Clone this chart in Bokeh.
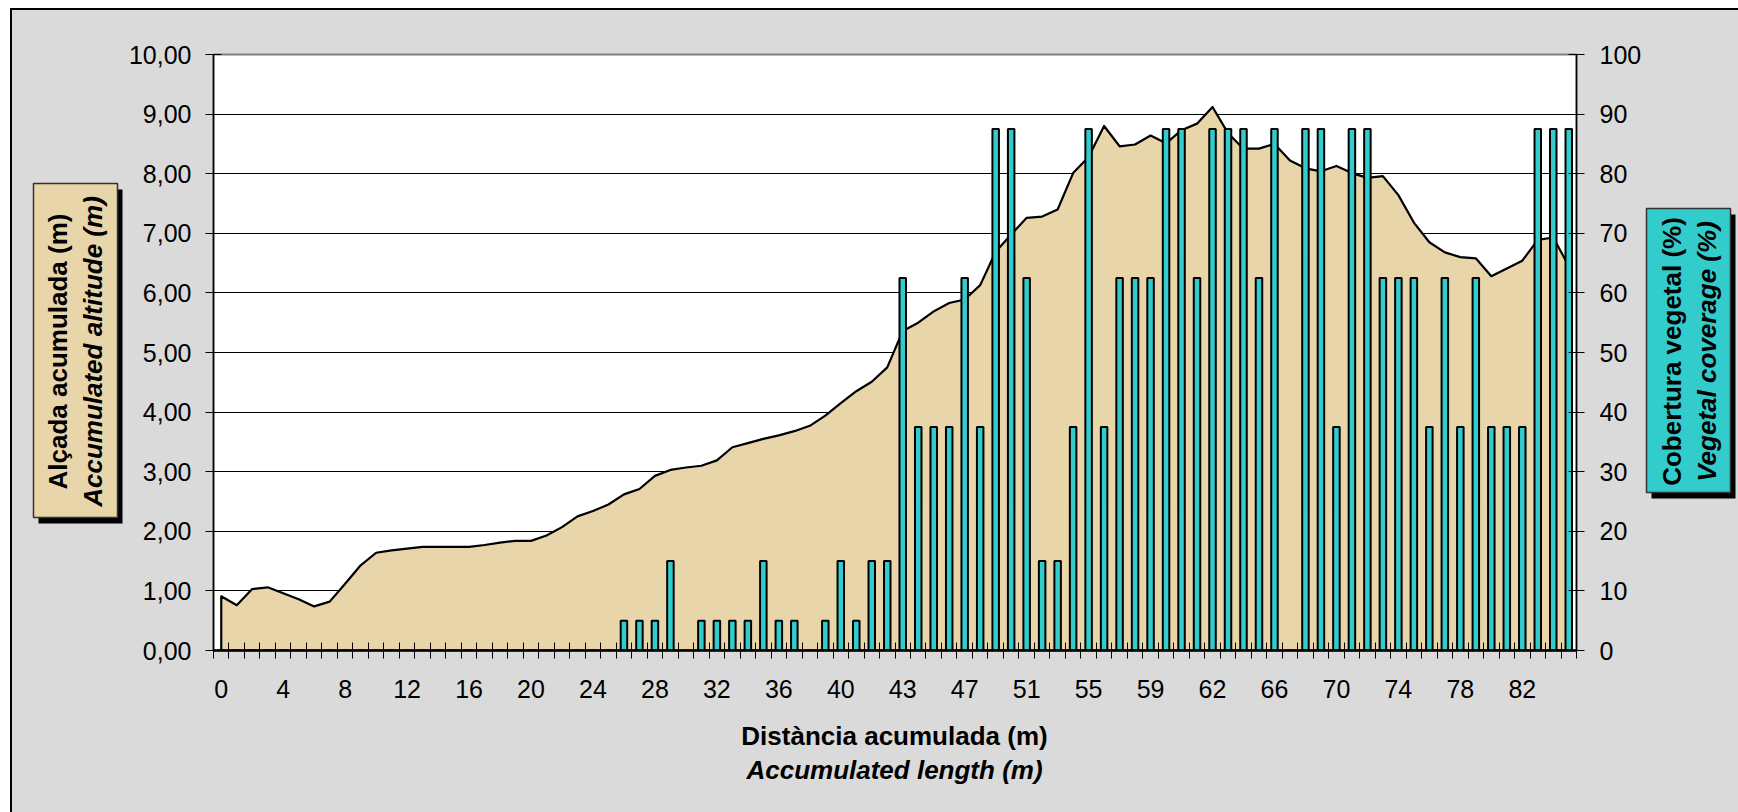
import math
from bokeh.plotting import figure
from bokeh.models import Range1d, LinearAxis, FixedTicker
from bokeh.layouts import row, column
from bokeh.core.properties import value
from bokeh.embed import file_html
from bokeh.resources import INLINE

# ---------------- data ----------------
altitude_m = [
    0.91, 0.76, 1.03, 1.06, 0.96, 0.86, 0.74, 0.82, 1.12, 1.43,
    1.64, 1.68, 1.71, 1.74, 1.74, 1.74, 1.74, 1.77, 1.81, 1.84,
    1.84, 1.93, 2.07, 2.25, 2.34, 2.45, 2.62, 2.71, 2.93, 3.03,
    3.07, 3.10, 3.19, 3.41, 3.48, 3.55, 3.61, 3.68, 3.77, 3.94,
    4.15, 4.35, 4.51, 4.75, 5.36, 5.50, 5.69, 5.83, 5.89, 6.13,
    6.69, 6.98, 7.26, 7.28, 7.40, 8.01, 8.28, 8.80, 8.46, 8.49,
    8.64, 8.51, 8.73, 8.84, 9.12, 8.68, 8.42, 8.42, 8.50, 8.22,
    8.09, 8.04, 8.13, 8.01, 7.93, 7.96, 7.64, 7.18, 6.85, 6.68,
    6.60, 6.58, 6.28, 6.41, 6.54, 6.89, 6.93, 6.45,
]

vegetal_cover_pct = [0] * 26 + [
    5, 5, 5, 15, 0, 5, 5, 5, 5, 15, 5, 5, 0, 5, 15, 5, 15, 15,
    62.5, 37.5, 37.5, 37.5, 62.5, 37.5, 87.5, 87.5, 62.5, 15,
    15, 37.5, 87.5, 37.5, 62.5, 62.5, 62.5, 87.5, 87.5, 62.5,
    87.5, 87.5, 87.5, 62.5, 87.5, 0, 87.5, 87.5, 37.5, 87.5,
    87.5, 62.5, 62.5, 62.5, 37.5, 62.5, 37.5, 62.5, 37.5, 37.5,
    37.5, 87.5, 87.5, 87.5,
]

x_tick_labels = ["0", "4", "8", "12", "16", "20", "24", "28", "32", "36", "40",
                 "43", "47", "51", "55", "59", "62", "66", "70", "74", "78", "82"]
left_ticks = [0, 1, 2, 3, 4, 5, 6, 7, 8, 9, 10]
right_ticks = [0, 10, 20, 30, 40, 50, 60, 70, 80, 90, 100]

x_title = ["Distància acumulada (m)", "Accumulated length (m)"]
left_title = ["Alçada acumulada (m)", "Accumulated altitude (m)"]
right_title = ["Cobertura vegetal (%)", "Vegetal coverage (%)"]

# ---------------- styling ----------------
FONT = "Liberation Sans"
TAN = "#e9d5aa"
CYAN = "#33cccc"
BG = "#dadada"
TICK_SIZE = "25px"
TITLE_SIZE = "26px"

# page geometry (content origin after margin + border)
X0, Y0 = 12, 10
LEFT_W, MAIN_W, RIGHT_W = 113, 1519, 94
TOP_H, BOT_H = 700, 102
MB_TOP, MB_BOTTOM = 44, 60          # frame: page y 54 .. 650
FRAME_TOP = Y0 + MB_TOP
FRAME_BOTTOM = Y0 + TOP_H - MB_BOTTOM

n = len(altitude_m)
idx = list(range(n))

# ---------------- main chart ----------------
p = figure(width=MAIN_W, height=TOP_H, output_backend="svg", toolbar_location=None,
           x_range=Range1d(-0.5, n - 0.5), y_range=Range1d(0, 10),
           min_border_left=88, min_border_right=67,
           min_border_top=MB_TOP, min_border_bottom=MB_BOTTOM)
p.extra_y_ranges = {"veg": Range1d(0, 100)}
p.background_fill_color = "white"
p.border_fill_color = BG
p.outline_line_color = "#808080"
p.outline_line_width = 2

p.xgrid.visible = False
p.ygrid.ticker = FixedTicker(ticks=left_ticks[1:-1])
p.ygrid.grid_line_color = "black"
p.ygrid.grid_line_width = 1

xs = [idx[0]] + idx + [idx[-1]]
ys = [0] + altitude_m + [0]
p.patch(xs, ys, fill_color=TAN, line_color="black", line_width=2.2, line_join="round")

p.vbar(x=idx, top=vegetal_cover_pct, bottom=0, width=0.42, y_range_name="veg",
       fill_color=CYAN, line_color="black", line_width=2)

xa = p.xaxis[0]
xa.ticker = FixedTicker(ticks=[4 * i for i in range(len(x_tick_labels))],
                        minor_ticks=[i - 0.5 for i in range(n + 1)])
xa.major_label_overrides = {4 * i: lab for i, lab in enumerate(x_tick_labels)}
xa.major_tick_in = 0
xa.major_tick_out = 0
xa.major_tick_line_color = None
xa.minor_tick_in = 8
xa.minor_tick_out = 8
xa.minor_tick_line_color = "black"
xa.axis_line_color = "black"
xa.axis_line_width = 2.5
xa.major_label_standoff = 21
xa.major_label_text_font = FONT
xa.major_label_text_font_size = TICK_SIZE
xa.major_label_text_color = "black"

ya = p.yaxis[0]
ya.ticker = FixedTicker(ticks=left_ticks)
ya.major_label_overrides = {v: f"{v},00" for v in left_ticks}
ya.minor_tick_line_color = None
ya.major_tick_in = 8
ya.major_tick_out = 8
ya.major_tick_line_color = "black"
ya.axis_line_color = "black"
ya.axis_line_width = 1.5
ya.major_label_standoff = 14
ya.major_label_text_font = FONT
ya.major_label_text_font_size = TICK_SIZE
ya.major_label_text_color = "black"

ra = LinearAxis(y_range_name="veg", ticker=FixedTicker(ticks=right_ticks))
ra.minor_tick_line_color = None
ra.major_tick_in = 8
ra.major_tick_out = 8
ra.major_tick_line_color = "black"
ra.axis_line_color = "black"
ra.axis_line_width = 1.5
ra.major_label_standoff = 15
ra.major_label_text_font = FONT
ra.major_label_text_font_size = TICK_SIZE
ra.major_label_text_color = "black"
p.add_layout(ra, "right")


# ---------------- decoration panels (page-pixel coordinates) ----------------
def deco(x0, w, h, y_top, y_bottom, mb_top=0, mb_bottom=0):
    f = figure(width=w, height=h, output_backend="svg", toolbar_location=None,
               x_range=Range1d(x0, x0 + w), y_range=Range1d(y_bottom, y_top),
               x_axis_location=None, y_axis_location=None,
               min_border=0, min_border_left=0, min_border_right=0,
               min_border_top=mb_top, min_border_bottom=mb_bottom)
    f.grid.visible = False
    f.background_fill_color = BG
    f.border_fill_color = BG
    f.outline_line_color = None
    return f


def boxed_title(f, box, fill, lines, line_xs, cy):
    l, r, t, b = box
    f.quad(left=l + 5, right=r + 5, top=t + 6, bottom=b + 6, fill_color="black", line_color=None)
    f.quad(left=l, right=r, top=t, bottom=b, fill_color=fill, line_color="#333333", line_width=1.5)
    for lx, txt, style in zip(line_xs, lines, ["bold", "bold italic"]):
        f.text(x=[lx], y=[cy], text=[txt], angle=math.pi / 2, text_align="center",
               text_baseline="middle", text_font=value(FONT), text_font_style=style,
               text_font_size=TITLE_SIZE, text_color="black")


# side panels share the main frame's vertical extent (page y FRAME_TOP..FRAME_BOTTOM)
left_fig = deco(X0, LEFT_W, TOP_H, FRAME_TOP, FRAME_BOTTOM, MB_TOP, MB_BOTTOM)
boxed_title(left_fig, (33, 117, 183, 517), TAN, left_title, [57.7, 92.2], 351)

right_fig = deco(X0 + LEFT_W + MAIN_W, RIGHT_W, TOP_H, FRAME_TOP, FRAME_BOTTOM, MB_TOP, MB_BOTTOM)
boxed_title(right_fig, (1646, 1730, 208, 492), CYAN, right_title, [1671, 1706], 351)

bottom_fig = deco(X0, LEFT_W + MAIN_W + RIGHT_W, BOT_H, Y0 + TOP_H, Y0 + TOP_H + BOT_H)
for yy, txt, style in [(735, x_title[0], "bold"), (769, x_title[1], "bold italic")]:
    bottom_fig.text(x=[894], y=[yy], text=[txt], text_align="center", text_baseline="middle",
                    text_font=value(FONT), text_font_style=style, text_font_size=TITLE_SIZE,
                    text_color="black")

layout = column(row(left_fig, p, right_fig, spacing=0), bottom_fig, spacing=0)
layout.styles = {"margin-left": "10px", "margin-top": "8px", "background-color": BG,
                 "border-left": "2px solid black", "border-top": "2px solid black"}

open("out.html", "w").write(file_html(layout, INLINE))
